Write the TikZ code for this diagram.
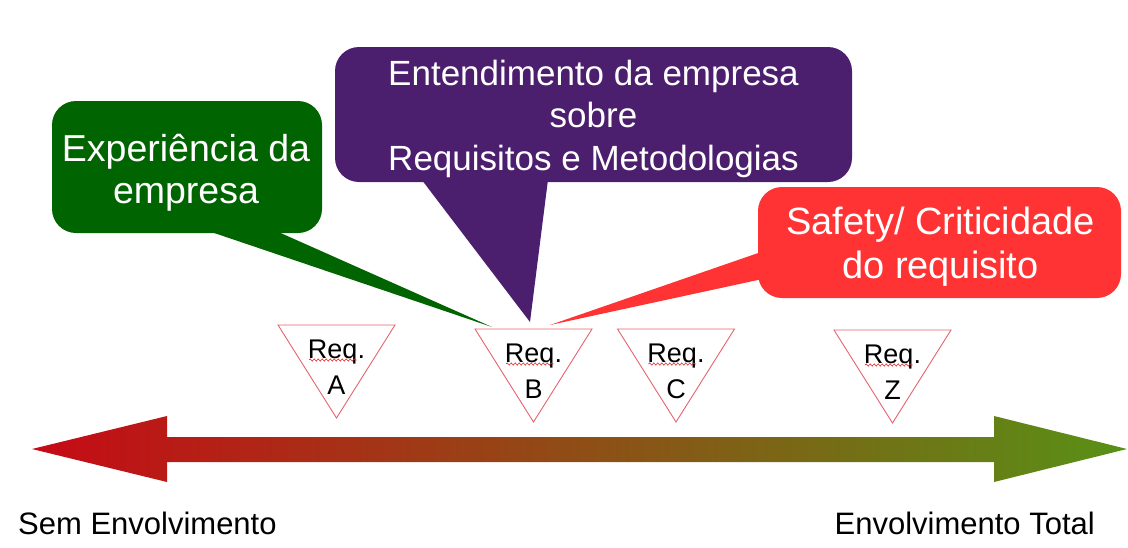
\documentclass[tikz,border=0pt]{standalone}
\usepackage{fontspec}
\setmainfont{Liberation Sans}
\usetikzlibrary{calc,decorations.pathmorphing}
\definecolor{cgreen}{RGB}{0,100,0}
\definecolor{cpurple}{RGB}{76,30,110}
\definecolor{cred}{RGB}{255,51,51}
\definecolor{arrred}{RGB}{198,10,22}
\definecolor{arrgreen}{RGB}{88,145,22}
\definecolor{tribord}{RGB}{230,100,110}
\definecolor{wavy}{RGB}{220,40,40}
\newcommand\reqtri[4]{%
  \draw[tri] (#2-58.5,#3) -- (#2+58.5,#3) -- (#2,#3+93) -- cycle;
  \node[reqtext] (#1) at (#2,#3+42) {Req.\\#4};
  \draw[wave] (#2-27.5,#3+35) -- (#2+20,#3+35);
}
\begin{document}
\begin{tikzpicture}[x=1pt,y=-1pt,
  callout/.style={rounded corners=24pt, inner sep=0pt},
  callouttext/.style={inner sep=0pt, align=center, text=white},
  reqtext/.style={align=center, inner sep=0pt, font=\fontsize{27}{36}\selectfont},
  tri/.style={draw=tribord, fill=white, line width=0.9pt, line join=miter},
  wave/.style={draw=wavy, line width=0.6pt, decorate, decoration={snake, amplitude=1.1pt, segment length=4pt}},
  lbl/.style={inner sep=0pt, font=\fontsize{31}{36}\selectfont}]
\useasboundingbox (0,0) rectangle (1128,547);

% tail tips
\coordinate (gtip) at (492,327);
\coordinate (ptip) at (530,322);
\coordinate (rtip) at (550,325);

% callout boxes
\node[callout, fill=cgreen, minimum width=270pt, minimum height=132pt] (green) at (187,167) {};
\node[callout, fill=cpurple, minimum width=517pt, minimum height=135pt] (purple) at (593.5,114.5) {};
\node[callout, fill=cred, minimum width=363pt, minimum height=111pt] (red) at (939.5,242.5) {};

% tails
\fill[cgreen] ($(green.south west)+(160,-1)$) -- (gtip) -- ($(green.south west)+(227,-1)$) -- cycle;
\fill[cpurple] ($(purple.south west)+(88,-1)$) -- (ptip) -- ($(purple.south west)+(213,-1)$) -- cycle;
\fill[cred] ($(red.north west)+(1,66)$) -- (rtip) -- ($(red.north west)+(1,93)$) -- cycle;

% callout texts
\node[callouttext, font=\fontsize{37.5}{42}\selectfont] (greentxt) at ($(green.center)+(-1,6)$) {Experiência da\\empresa};
\node[callouttext, font=\fontsize{35}{42.5}\selectfont] (purpletxt) at ($(purple.center)+(0,4)$) {Entendimento da empresa\\sobre\\Requisitos e Metodologias};
\node[callouttext, font=\fontsize{38}{44}\selectfont] (redtxt) at ($(red.center)+(1,4.5)$) {Safety/ Criticidade\\do requisito};

% requirement triangles
\reqtri{ra}{336.5}{325}{A}
\reqtri{rb}{533.5}{329}{B}
\reqtri{rc}{676}{329}{C}
\reqtri{rz}{892.5}{330}{Z}

% double arrow with gradient
\coordinate (ltip) at (32,449);
\coordinate (rtip2) at (1127,449);
\shade[left color=arrred, right color=arrgreen]
  (ltip) -- (167,416) -- (167,437) -- (994,437) -- (994,416) -- (rtip2)
  -- (994,482) -- (994,462) -- (167,462) -- (167,482) -- cycle;

% end labels
\node[lbl, anchor=west] (sem) at (18,523) {Sem Envolvimento};
\node[lbl, anchor=east] (tot) at (1095,523) {Envolvimento Total};
\end{tikzpicture}
\end{document}
